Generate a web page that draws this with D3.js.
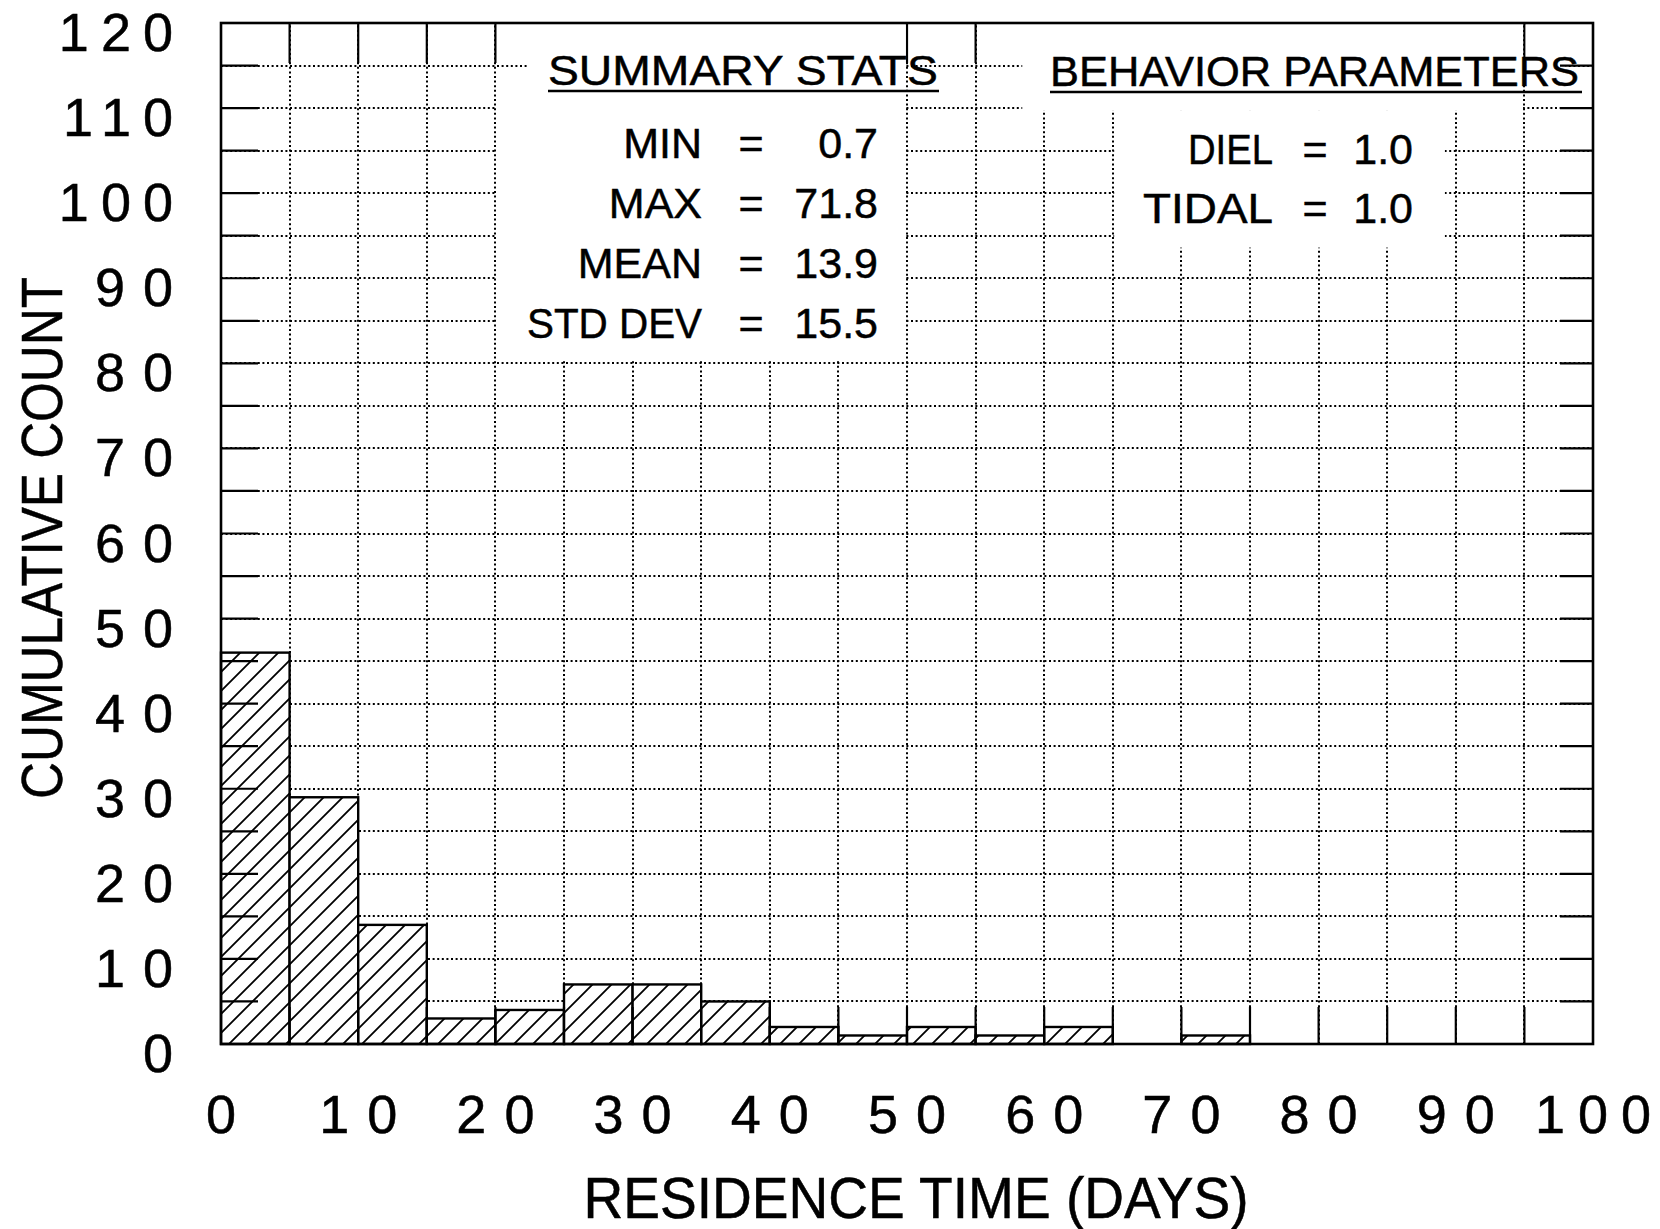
<!DOCTYPE html>
<html><head><meta charset="utf-8">
<script src="https://cdn.jsdelivr.net/npm/d3@7"></script>
<style>
html,body{margin:0;padding:0;background:#fff;}
svg{display:block;}
text{font-family:"Liberation Sans",Arial,Helvetica,sans-serif;fill:#000;stroke:#000;stroke-width:0.5px;}
</style>
</head><body>
<svg id="c" width="1660" height="1229"></svg>
<script>
// ---- data ----
const binStarts = [0,5,10,15,20,25,30,35,40,45,50,55,60,65,70,75,80,85,90,95];
const counts    = [46,29,14,3,4,7,7,5,2,1,2,1,2,0,1,0,0,0,0,0];
const binWidth = 5;
const xTickValues = [0,10,20,30,40,50,60,70,80,90,100];
const xTickLabels = ["0","10","20","30","40","50","60","70","80","90","100"];
const yTickValues = [0,10,20,30,40,50,60,70,80,90,100,110,120];
const yTickLabels = ["0","10","20","30","40","50","60","70","80","90","100","110","120"];
const gridValuesX = [5,10,15,20,25,30,35,40,45,50,55,60,65,70,75,80,85,90,95];
const gridValuesY = [5,10,15,20,25,30,35,40,45,50,55,60,65,70,75,80,85,90,95,100,105,110,115];
const summaryTitle = "SUMMARY STATS";
const summaryLabels = ["MIN","MAX","MEAN","STD DEV"];
const summaryValues = ["0.7","71.8","13.9","15.5"];
const behaviorTitle = "BEHAVIOR PARAMETERS";
const behaviorLabels = ["DIEL","TIDAL"];
const behaviorValues = ["1.0","1.0"];
const xTitle = "RESIDENCE TIME (DAYS)";
const yTitle = "CUMULATIVE COUNT";
// regions (data units) where the grid is blanked behind the annotation text
const gridGaps = [
  {x0:22.3, x1:49.9, y0:112,  y1:119.8},
  {x0:20.1, x1:49.9, y0:80.3, y1:112},
  {x0:58.4, x1:94.9, y0:109.7,y1:119.8},
  {x0:95.1, x1:98.0, y0:112,  y1:119.8},
  {x0:65.1, x1:89.2, y0:93.6, y1:109.7}
];

// ---- layout ----
const svg = d3.select("#c");
svg.append("rect").attr("width",1660).attr("height",1229).attr("fill","#fff");
const x = d3.scaleLinear().domain([0,100]).range([221,1593]);
const y = d3.scaleLinear().domain([0,120]).range([1044,23]);

const defs = svg.append("defs");
const pat = defs.append("pattern").attr("id","hatch")
  .attr("patternUnits","userSpaceOnUse").attr("width",19).attr("height",19);
pat.append("rect").attr("width",19).attr("height",19).attr("fill","#fff");
pat.append("path").attr("d","M-3,3 L3,-3 M0,19 L19,0 M16,22 L22,16")
  .attr("stroke","#000").attr("stroke-width",1.8);

// dotted grid
const grid = svg.append("g").attr("stroke","#000").attr("stroke-width",2)
  .attr("stroke-dasharray","2,2.6").attr("fill","none");
grid.selectAll("line.h").data(gridValuesY).join("line").attr("class","h")
  .attr("x1",x(0)).attr("x2",x(100)).attr("y1",d=>Math.round(y(d))).attr("y2",d=>Math.round(y(d)));
grid.selectAll("line.v").data(gridValuesX).join("line").attr("class","v")
  .attr("y1",y(0)).attr("y2",y(120)).attr("x1",d=>Math.round(x(d))).attr("x2",d=>Math.round(x(d)));

// top ticks
const inGapTop = v => gridGaps.some(g => g.y1 > 119 && v > g.x0 && v < g.x1);
svg.append("g").attr("stroke","#000").attr("stroke-width",2.2)
  .selectAll("line").data(gridValuesX.filter(v=>!inGapTop(v))).join("line")
  .attr("x1",d=>x(d)).attr("x2",d=>x(d)).attr("y1",y(120)).attr("y2",y(120)+40);

// gaps
svg.append("g").selectAll("rect").data(gridGaps).join("rect")
  .attr("x",d=>x(d.x0)).attr("width",d=>x(d.x1)-x(d.x0))
  .attr("y",d=>y(d.y1)).attr("height",d=>y(d.y0)-y(d.y1)).attr("fill","#fff");

// bars
const bars = binStarts.map((s,i)=>({s, c:counts[i]})).filter(d=>d.c>0);
svg.append("g").selectAll("rect").data(bars).join("rect")
  .attr("x",d=>x(d.s)).attr("width",d=>x(d.s+binWidth)-x(d.s))
  .attr("y",d=>y(d.c)).attr("height",d=>y(0)-y(d.c))
  .attr("fill","url(#hatch)").attr("stroke","#000").attr("stroke-width",2.4);

// side ticks
const tk = svg.append("g").attr("stroke","#000").attr("stroke-width",2.2);
tk.selectAll("line.l").data(gridValuesY).join("line").attr("class","l")
  .attr("x1",x(0)).attr("x2",x(0)+37).attr("y1",d=>y(d)).attr("y2",d=>y(d));
tk.selectAll("line.r").data(gridValuesY).join("line").attr("class","r")
  .attr("x1",x(100)-33).attr("x2",x(100)).attr("y1",d=>y(d)).attr("y2",d=>y(d));
tk.selectAll("line.b").data(gridValuesX).join("line").attr("class","b")
  .attr("x1",d=>x(d)).attr("x2",d=>x(d)).attr("y1",y(0)).attr("y2",y(0)-37);

// frame
svg.append("rect").attr("x",x(0)).attr("y",y(120)).attr("width",x(100)-x(0))
  .attr("height",y(0)-y(120)).attr("fill","none").attr("stroke","#000").attr("stroke-width",2.6);

// spaced digits: gaps only between characters (no trailing space)
function spaced(sel, lab, gap){
  lab.split("").forEach((ch,k)=>{
    const t = sel.append("tspan").text(ch);
    if (k>0) t.attr("dx",gap);
  });
}
svg.append("g").selectAll("text").data(yTickValues).join("text")
  .each(function(d,i){
    const lab = yTickLabels[i], ls = lab.length===3?12:18;
    const t = d3.select(this).attr("x",173).attr("y",y(d)+28).attr("text-anchor","end")
      .attr("font-size",54);
    spaced(t, lab, ls);
  });
svg.append("g").selectAll("text").data(xTickValues).join("text")
  .each(function(d,i){
    const lab = xTickLabels[i], ls = lab.length===3?13:18;
    const t = d3.select(this).attr("x",x(d)).attr("y",1133).attr("text-anchor","middle")
      .attr("font-size",54);
    spaced(t, lab, ls);
  });

// axis titles
svg.append("text").attr("x",916).attr("y",1218).attr("text-anchor","middle")
  .attr("font-size",57).attr("textLength",665).attr("lengthAdjust","spacingAndGlyphs").text(xTitle);
svg.append("text").attr("transform","translate(62,538) rotate(-90)").attr("text-anchor","middle")
  .attr("font-size",58).attr("textLength",522).attr("lengthAdjust","spacingAndGlyphs").text(yTitle);

// summary stats
svg.append("text").attr("x",548).attr("y",85).attr("font-size",42)
  .attr("textLength",390).attr("lengthAdjust","spacingAndGlyphs").text(summaryTitle);
svg.append("line").attr("x1",548).attr("x2",939).attr("y1",91).attr("y2",91)
  .attr("stroke","#000").attr("stroke-width",2.6);
const sRows = [158,218,278,338];
summaryLabels.forEach((l,i)=>{
  const t = svg.append("text").attr("x",702).attr("y",sRows[i]).attr("text-anchor","end")
    .attr("font-size",43).text(l);
  if (l==="STD DEV") t.attr("textLength",175).attr("lengthAdjust","spacingAndGlyphs");
  svg.append("text").attr("x",751).attr("y",sRows[i]).attr("text-anchor","middle").attr("font-size",43).text("=");
  svg.append("text").attr("x",878).attr("y",sRows[i]).attr("text-anchor","end").attr("font-size",43).text(summaryValues[i]);
});

// behavior parameters
svg.append("text").attr("x",1050).attr("y",86).attr("font-size",42)
  .attr("textLength",529).attr("lengthAdjust","spacingAndGlyphs").text(behaviorTitle);
svg.append("line").attr("x1",1050).attr("x2",1582).attr("y1",92).attr("y2",92)
  .attr("stroke","#000").attr("stroke-width",2.6);
const bRows = [164,223];
const bLen = [85,130];
behaviorLabels.forEach((l,i)=>{
  svg.append("text").attr("x",1273).attr("y",bRows[i]).attr("text-anchor","end")
    .attr("font-size",43).attr("textLength",bLen[i]).attr("lengthAdjust","spacingAndGlyphs").text(l);
  svg.append("text").attr("x",1315).attr("y",bRows[i]).attr("text-anchor","middle").attr("font-size",43).text("=");
  svg.append("text").attr("x",1413).attr("y",bRows[i]).attr("text-anchor","end").attr("font-size",43).text(behaviorValues[i]);
});
</script>
</body></html>
